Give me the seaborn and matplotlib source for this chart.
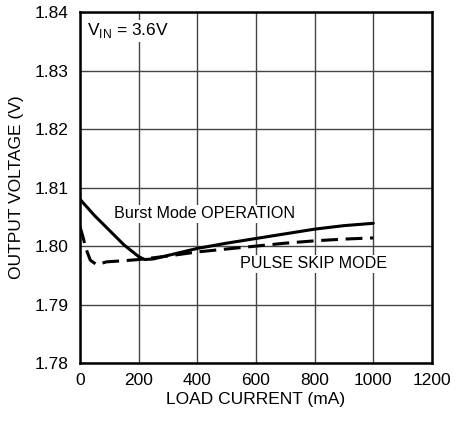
import matplotlib
matplotlib.use("Agg")
import matplotlib.pyplot as plt
import seaborn as sns
import pandas as pd

sns.set_theme(style="white")
plt.rcParams['font.family'] = ["Liberation Sans", 'DejaVu Sans']

burst_x = [0, 25, 50, 100, 150, 200, 220, 250, 300, 400, 500, 600, 700, 800, 900, 1000]
burst_v = [1.8080, 1.8066, 1.8052, 1.8027, 1.8002, 1.7982, 1.7977, 1.7978, 1.7984, 1.7996, 1.8005, 1.8013, 1.8021, 1.8029, 1.8035, 1.8039]
skip_x = [0, 10, 20, 35, 57, 90, 150, 200, 300, 400, 500, 600, 700, 800, 900, 1000]
skip_v = [1.8033, 1.8016, 1.7996, 1.7976, 1.7968, 1.7973, 1.7975, 1.7977, 1.7983, 1.7990, 1.7995, 1.8000, 1.8005, 1.8009, 1.8012, 1.8014]

x_ticks = [0, 200, 400, 600, 800, 1000, 1200]
y_ticks = [1.78, 1.79, 1.80, 1.81, 1.82, 1.83, 1.84]

df_b = pd.DataFrame({"x": burst_x, "v": burst_v})
df_s = pd.DataFrame({"x": skip_x, "v": skip_v})

fig = plt.figure(figsize=(4.69, 4.21), dpi=100)
ax = fig.add_axes([0.1706, 0.1378, 0.7505, 0.8330])

sns.lineplot(data=df_b, x="x", y="v", ax=ax, color="black", lw=2.2)
sns.lineplot(data=df_s, x="x", y="v", ax=ax, color="black", lw=2.2)
ax.lines[-1].set_linestyle((0, (5.5, 2.5)))

ax.set_xlim(0, 1200)
ax.set_ylim(1.78, 1.84)
ax.set_xticks(x_ticks)
ax.set_yticks(y_ticks)
ax.set_xticklabels([str(t) for t in x_ticks])
ax.set_yticklabels([f"{t:.2f}" for t in y_ticks])
ax.grid(True, color="#444444", lw=1.0)
for s in ax.spines.values():
    s.set_color("black")
    s.set_linewidth(1.8)
ax.tick_params(axis="both", length=0, labelsize=12.5, colors="black")
ax.tick_params(axis="y", pad=8)
ax.tick_params(axis="x", pad=7)
ax.set_xlabel("LOAD CURRENT (mA)", fontsize=12.5, color="black", labelpad=3)
ax.set_ylabel("OUTPUT VOLTAGE (V)", fontsize=12.5, color="black", labelpad=8)

ax.text(25, 1.8368, r"V$_{\mathregular{IN}}$ = 3.6V", fontsize=12.5, color="black",
        va="center", ha="left", bbox=dict(facecolor="white", edgecolor="none", pad=1))
ax.text(116, 1.8055, "Burst Mode OPERATION", fontsize=11.6, color="black",
        va="center", ha="left", bbox=dict(facecolor="white", edgecolor="none", pad=1))
ax.text(545, 1.7970, "PULSE SKIP MODE", fontsize=11.6, color="black",
        va="center", ha="left", bbox=dict(facecolor="white", edgecolor="none", pad=1))

fig.savefig("out.png", dpi=100)
